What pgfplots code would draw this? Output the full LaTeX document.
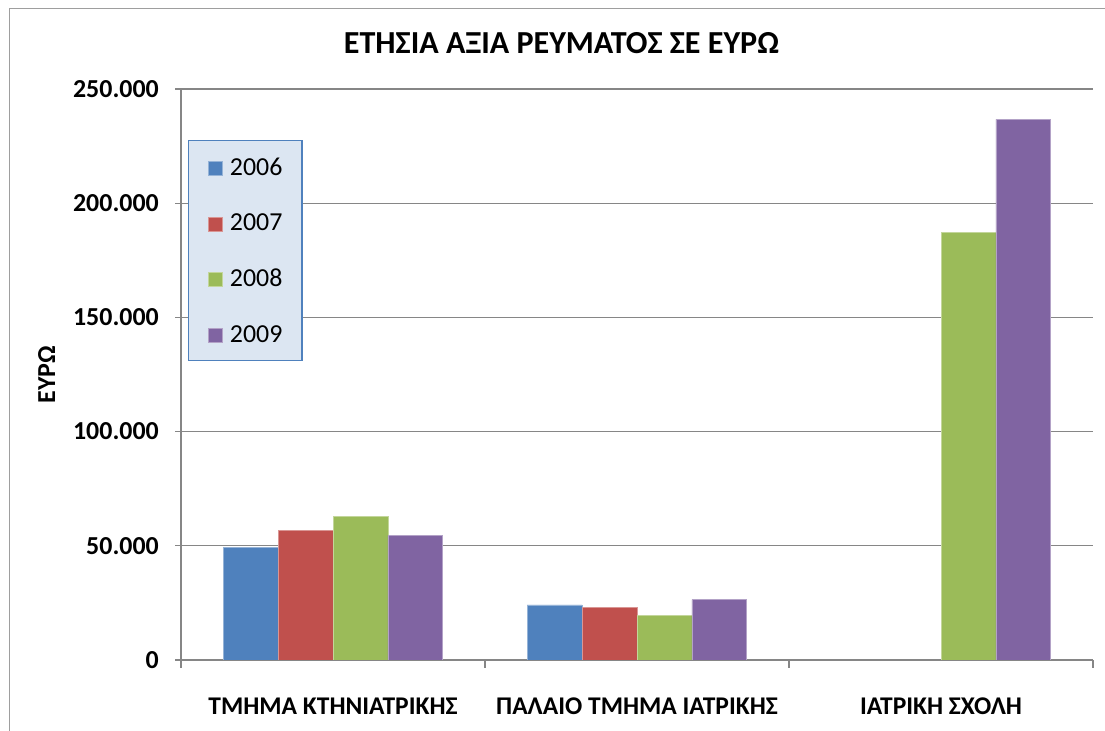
\documentclass[border=0pt]{standalone}
\usepackage{pgfplots}
\pgfplotsset{compat=1.18}
\usepackage{fontspec}
\setmainfont{Carlito}
\definecolor{cA}{HTML}{4F81BD}
\definecolor{cB}{HTML}{C0504D}
\definecolor{cC}{HTML}{9BBB59}
\definecolor{cD}{HTML}{8064A2}
\definecolor{gridc}{HTML}{868686}
\definecolor{legfill}{HTML}{DCE6F2}
\begin{document}
\begin{tikzpicture}[x=1bp,y=1bp]
\useasboundingbox (0,0) rectangle (1105,731);
\draw[color=gridc!80, line width=1bp] (9,-5) -- (9,722) -- (1110,722);
\node[anchor=base, font=\bfseries\fontsize{32.2}{37}\selectfont] at (561.5,677.7) {ΕΤΗΣΙΑ ΑΞΙΑ ΡΕΥΜΑΤΟΣ ΣΕ ΕΥΡΩ};
\begin{axis}[
  at={(181bp,71bp)}, anchor=south west,
  scale only axis, width=912bp, height=571bp,
  ybar=0pt, bar width=54.9bp,
  ymin=0, ymax=250000, ytick={0,50000,100000,150000,200000,250000},
  scaled y ticks=false,
  xmin=-0.5, xmax=2.5,
  xtick={0,1,2},
  xticklabels={ΤΜΗΜΑ ΚΤΗΝΙΑΤΡΙΚΗΣ, ΠΑΛΑΙΟ ΤΜΗΜΑ ΙΑΤΡΙΚΗΣ, ΙΑΤΡΙΚΗ ΣΧΟΛΗ},
  minor xtick={-0.5,0.5,1.5,2.5},
  major x tick style={draw=none},
  minor x tick style={draw=gridc, line width=1.2bp},
  major y tick style={draw=gridc, line width=1.2bp},
  major tick length=6bp, minor tick length=8bp,
  tick align=outside, tick pos=left,
  axis x line*=bottom, axis y line*=left,
  axis line style={draw=gridc, line width=1.2bp},
  ymajorgrids, grid style={draw=gridc, line width=1.2bp},
  yticklabel style={font=\bfseries\fontsize{26}{31}\selectfont, anchor=east, inner sep=0pt, xshift=-16bp,
     /pgf/number format/.cd, fixed, precision=0, 1000 sep={.}, assume math mode=true},
  xticklabel style={font=\bfseries\fontsize{25.6}{31}\selectfont, anchor=base, inner sep=0pt, yshift=-49bp},
  ylabel={ΕΥΡΩ},
  ylabel style={font=\bfseries\fontsize{26}{31}\selectfont, at={(axis description cs:-0.1473,0.5)}, anchor=center, inner sep=0pt},
  legend style={at={(0.0077,0.9107)}, anchor=north west, fill=legfill, draw=cA, line width=1.2bp,
     font=\fontsize{26}{31}\selectfont, inner xsep=19.5bp, inner ysep=17.5bp, row sep=38.5bp,
     nodes={inner sep=0pt, text height=17bp, text depth=0pt},
     /tikz/every odd column/.style={column sep=7bp}},
  legend cell align=left,
  legend image code/.code={\fill[#1] (0bp,-8.5bp) rectangle (14bp,5.5bp);},
]
\addplot[fill=cA, draw=cA!60!white, line width=0.8bp] coordinates {(0,49100) (1,24100)};
\addplot[fill=cB, draw=cB!60!white, line width=0.8bp] coordinates {(0,56900) (1,22900)};
\addplot[fill=cC, draw=cC!60!white, line width=0.8bp] coordinates {(0,62900) (1,19400) (2,187100)};
\addplot[fill=cD, draw=cD!60!white, line width=0.8bp] coordinates {(0,54500) (1,26400) (2,236700)};
\legend{2006,2007,2008,2009}
\end{axis}
\end{tikzpicture}
\end{document}
